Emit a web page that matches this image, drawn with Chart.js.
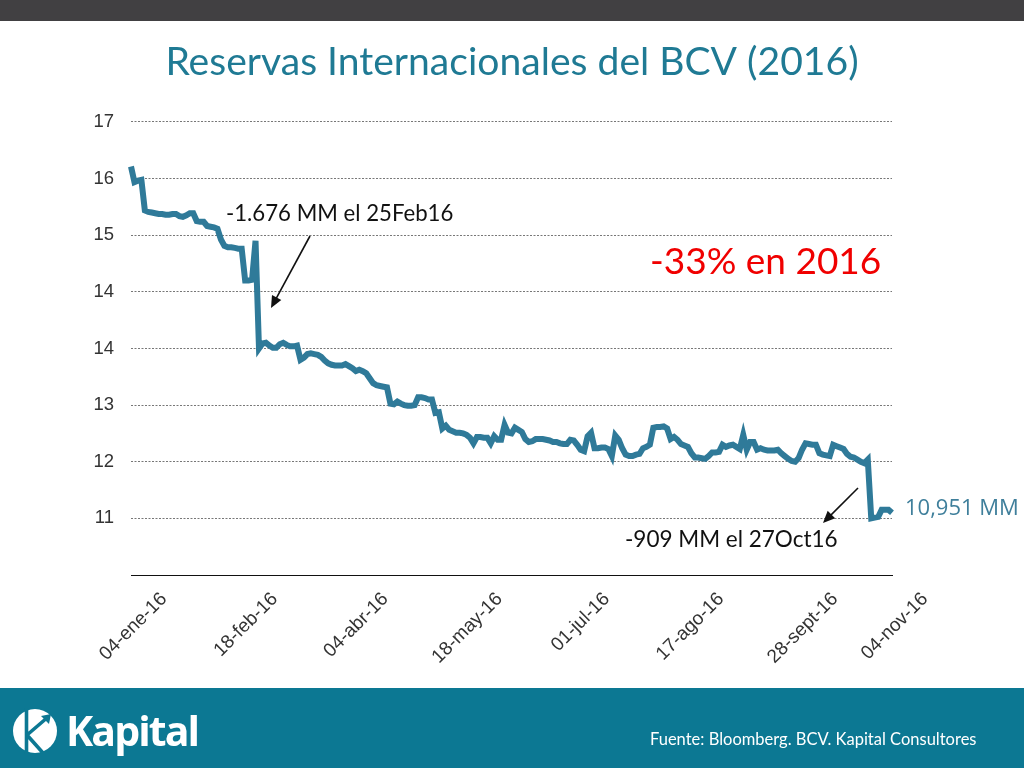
<!DOCTYPE html>
<html lang="es"><head><meta charset="utf-8">
<script src="https://cdn.jsdelivr.net/npm/chart.js@4/dist/chart.umd.min.js"></script>
<style>
html,body{margin:0;padding:0;background:#fff;width:1024px;height:768px;overflow:hidden}
#top{position:absolute;left:0;top:0;width:1024px;height:21px;background:#414042}
#foot{position:absolute;left:0;top:688px;width:1024px;height:80px;background:#0c7893}
#chart{position:absolute;left:0;top:0}
#brand{position:absolute;left:66px;top:702px;font:700 41px/56px "Open Sans";letter-spacing:-1.9px;color:#fff}
#source{position:absolute;left:650px;top:729px;font:400 16.5px/20px Lato;color:#fff;white-space:nowrap}
#logo{position:absolute;left:12px;top:708px}
</style></head><body>
<div id="top"></div><div id="foot"></div>
<canvas id="chart" width="1024" height="768"></canvas>
<svg id="logo" width="46" height="46" viewBox="0 0 46 46">
<circle cx="23" cy="23" r="22" fill="#fff"/>
<path d="M14.5 0 L14.5 46 M15 27 L36 9 M15 27 L31 45" fill="none" stroke="#0c7893" stroke-width="3.6"/>
<path d="M29 8 L39 6 L37 16 Z" fill="#0c7893"/>
</svg>
<div id="brand">Kapital</div>
<div id="source">Fuente: Bloomberg. BCV. Kapital Consultores</div>
<script>
const titleText = "Reservas Internacionales del BCV (2016)";
const yTickLabels = ["", "11", "12", "13", "14", "14", "15", "16", "17"];
const dateLabels = ["04-ene-16", "18-feb-16", "04-abr-16", "18-may-16", "01-jul-16", "17-ago-16", "28-sept-16", "04-nov-16"];
const dateSlots = [0, 32, 64, 97, 128, 161, 194, 220];
const reserves = [
16.17,15.95,15.97,15.98,15.55,15.53,15.52,15.51,15.50,15.50,
15.49,15.49,15.50,15.50,15.47,15.46,15.48,15.51,15.51,15.40,
15.39,15.39,15.33,15.32,15.31,15.29,15.14,15.05,15.03,15.03,
15.02,15.01,15.01,14.56,14.56,14.57,15.12,13.60,13.67,13.68,
13.64,13.61,13.61,13.66,13.68,13.65,13.63,13.63,13.64,13.44,
13.47,13.52,13.53,13.52,13.51,13.48,13.43,13.39,13.37,13.36,
13.36,13.36,13.38,13.35,13.32,13.28,13.30,13.28,13.25,13.18,
13.11,13.08,13.07,13.06,13.05,12.82,12.81,12.85,12.82,12.80,
12.79,12.79,12.80,12.91,12.91,12.90,12.88,12.88,12.69,12.70,
12.47,12.51,12.45,12.43,12.41,12.41,12.40,12.38,12.34,12.26,
12.35,12.35,12.34,12.34,12.26,12.36,12.31,12.31,12.52,12.41,
12.40,12.48,12.45,12.42,12.32,12.28,12.29,12.32,12.32,12.32,
12.31,12.30,12.28,12.28,12.26,12.25,12.25,12.31,12.30,12.24,
12.17,12.15,12.36,12.41,12.19,12.19,12.20,12.20,12.18,12.08,
12.37,12.31,12.19,12.10,12.08,12.08,12.10,12.11,12.19,12.21,
12.24,12.48,12.49,12.49,12.50,12.47,12.32,12.35,12.31,12.25,
12.23,12.21,12.12,12.06,12.06,12.05,12.04,12.08,12.13,12.13,
12.14,12.24,12.21,12.23,12.24,12.21,12.18,12.38,12.17,12.28,
12.28,12.17,12.19,12.17,12.16,12.16,12.16,12.17,12.12,12.08,
12.04,12.01,12.00,12.05,12.17,12.26,12.25,12.24,12.24,12.12,
12.10,12.09,12.08,12.24,12.22,12.20,12.18,12.11,12.07,12.06,
12.03,12.00,11.98,12.03,11.20,11.21,11.22,11.32,11.32,11.32,11.28];

const categories = reserves.map((_, i) => {
  const k = dateSlots.indexOf(i);
  return k >= 0 ? dateLabels[k] : "";
});

const notes = [
  {text:"-1.676 MM el 25Feb16", x:226, y:221, font:'400 22.2px Lato', color:'#111'},
  {text:"-33% en 2016", x:650, y:274, font:'400 37px Lato', color:'#f00000'},
  {text:"-909 MM el 27Oct16", x:625, y:547, font:'400 22.5px Lato', color:'#111'},
  {text:"10,951 MM", x:905, y:515, font:'400 22px "Open Sans"', color:'#3f7f9b'}
];
const arrows = [
  {from:[310,236], to:[271,308]},
  {from:[858,488], to:[823,523]}
];

const slideNotes = {
  id:'slideNotes',
  afterDatasetsDraw(c){
    const g = c.ctx; g.save();
    g.textBaseline = 'alphabetic'; g.textAlign = 'left';
    notes.forEach(n => { g.font = n.font; g.fillStyle = n.color; g.fillText(n.text, n.x, n.y); });
    g.strokeStyle = '#111'; g.fillStyle = '#111'; g.lineWidth = 1.6;
    arrows.forEach(a => {
      const [x0,y0] = a.from, [x1,y1] = a.to;
      const t = Math.atan2(y1-y0, x1-x0), L = 13, W = 0.42;
      g.beginPath(); g.moveTo(x0,y0);
      g.lineTo(x1-Math.cos(t)*L*0.8, y1-Math.sin(t)*L*0.8); g.stroke();
      g.beginPath(); g.moveTo(x1,y1);
      g.lineTo(x1-L*Math.cos(t-W), y1-L*Math.sin(t-W));
      g.lineTo(x1-L*Math.cos(t+W), y1-L*Math.sin(t+W));
      g.closePath(); g.fill();
    });
    g.restore();
  }
};

new Chart(document.getElementById('chart'), {
  type:'line',
  data:{labels:categories, datasets:[{
    label:'Reservas',
    data:reserves,
    borderColor:'#2f7a99', borderWidth:6, borderJoinStyle:'miter', borderCapStyle:'butt',
    pointRadius:0, tension:0, fill:false, clip:false
  }]},
  plugins:[slideNotes],
  options:{
    responsive:false, devicePixelRatio:1, animation:false,
    layout:{padding:0},
    plugins:{
      legend:{display:false}, tooltip:{enabled:false},
      title:{display:true, text:titleText, color:'#1f7a94',
        font:{family:'Lato', size:39.1, weight:'400', lineHeight:1.2},
        padding:{top:39, bottom:36}}
    },
    scales:{
      x:{
        grid:{display:false, drawTicks:false},
        border:{display:true, color:'#111', width:1},
        afterBuildTicks(s){ s.ticks = s.ticks.filter(t => dateSlots.includes(t.value)); },
        afterFit(s){ s.height = 193; },
        ticks:{autoSkip:false, minRotation:45, maxRotation:45, labelOffset:33, padding:13,
          color:'#333', font:{family:'Liberation Sans', size:19},
          callback(v){ return this.getLabelForValue(v); }}
      },
      y:{
        min:10.4, max:16.8,
        afterFit(s){ s.width = 131; },
        grid:{color:'#777', lineWidth:1, drawTicks:false},
        border:{display:false, dash:[2,1.5]},
        ticks:{stepSize:0.8, padding:17, color:'#333', font:{family:'Liberation Sans', size:18.5},
          callback(v,i){ return yTickLabels[i]; }}
      },
      gutter:{
        position:'right', display:true, min:0, max:1,
        afterFit(s){ s.width = 132; },
        grid:{display:false, drawTicks:false}, border:{display:false},
        ticks:{display:false}
      }
    }
  }
});
</script>
</body></html>
